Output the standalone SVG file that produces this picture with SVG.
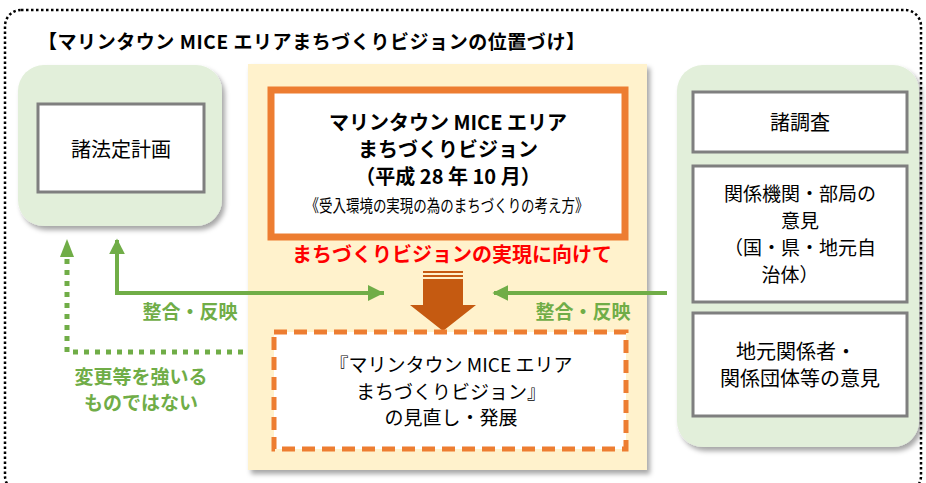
<svg xmlns="http://www.w3.org/2000/svg" width="926" height="483" viewBox="0 0 926 483">
<defs>
<filter id="sh" x="-10%" y="-10%" width="125%" height="125%">
<feDropShadow dx="3" dy="4" stdDeviation="2.5" flood-color="#000" flood-opacity="0.35"/>
</filter>
<marker id="ga" viewBox="0 0 10 10" refX="9" refY="5" markerWidth="4" markerHeight="4" orient="auto" markerUnits="strokeWidth">
<path d="M0,0 L10,5 L0,10 Z" fill="#70ad47"/>
</marker>
<style>
.t{font-family:"Noto Sans CJK JP","Noto Sans",sans-serif;fill:#000;text-anchor:middle}
.b{font-weight:bold}
.g{fill:#70ad47;font-weight:bold}
.panel{fill:#e2efda;filter:url(#sh)}
.wb{fill:#fff;stroke:#7f7f7f;stroke-width:3}
.gl{fill:none;stroke:#70ad47;stroke-width:4}
</style>
</defs>
<rect x="0" y="0" width="926" height="483" fill="#fff"/>
<rect x="5" y="10" width="916" height="482" rx="16" fill="none" stroke="#000" stroke-width="2.5" stroke-dasharray="2.5 2.5"/>
<text class="t b" x="38" y="49" font-size="19" style="text-anchor:start" textLength="547" lengthAdjust="spacing">【マリンタウン MICE エリアまちづくりビジョンの位置づけ】</text>

<g id="left-panel">
<rect class="panel" x="18" y="65" width="204" height="161" rx="26"/>
<rect class="wb" x="38" y="104" width="166" height="88"/>
<text class="t" x="121" y="157" font-size="20">諸法定計画</text>
</g>

<g id="center-panel">
<rect x="248" y="64" width="399" height="406" fill="#fff2cc" filter="url(#sh)"/>
</g>

<g id="vision">
<rect x="271" y="90" width="354" height="147" fill="#fff" stroke="#ed7d31" stroke-width="7"/>
<text class="t b" x="448" y="130" font-size="20">マリンタウン MICE エリア</text>
<text class="t b" x="448" y="157" font-size="20">まちづくりビジョン</text>
<text class="t b" x="448" y="184" font-size="20">（平成 28 年 10 月）</text>
<text class="t" x="447" y="212" font-size="17.5" textLength="283" lengthAdjust="spacingAndGlyphs">《受入環境の実現の為のまちづくりの考え方》</text>
</g>

<text class="t b" x="452" y="262" font-size="20" style="fill:#ff0000">まちづくりビジョンの実現に向けて</text>

<g id="big-arrow" fill="#c55a11">
<rect x="423" y="271" width="40" height="2"/>
<rect x="423" y="275" width="40" height="2"/>
<path d="M423,279 H463 V305 H476 L443,331 L410,305 H423 Z"/>
</g>

<g id="review">
<rect x="274" y="332" width="352" height="117" fill="#fff" stroke="#ed7d31" stroke-width="5" stroke-dasharray="13 7"/>
<text class="t" x="451" y="372" font-size="19">『マリンタウン MICE エリア</text>
<text class="t" x="451" y="399" font-size="19">まちづくりビジョン』</text>
<text class="t" x="451" y="425" font-size="19">の見直し・発展</text>
</g>

<g id="right-panel">
<rect class="panel" x="677" y="65" width="242" height="382" rx="26"/>
</g>
<g id="survey">
<rect class="wb" x="693" y="92" width="214" height="60"/>
<text class="t" x="800" y="130" font-size="20">諸調査</text>
</g>
<g id="agencies">
<rect class="wb" x="693" y="166" width="214" height="136"/>
<text class="t" x="800" y="201" font-size="19">関係機関・部局の</text>
<text class="t" x="800" y="228" font-size="19">意見</text>
<text class="t" x="800" y="255" font-size="19">（国・県・地元自</text>
<text class="t" x="790" y="282" font-size="19">治体）</text>
</g>
<g id="locals">
<rect class="wb" x="693" y="313" width="214" height="103"/>
<text class="t" x="796" y="359" font-size="20">地元関係者・</text>
<text class="t" x="800" y="386" font-size="20">関係団体等の意見</text>
</g>

<g id="connectors">
<polyline class="gl" points="384,293 117,293 117,240" marker-end="url(#ga)"/>
<path d="M368,285 L384,293 L368,301 Z" fill="#70ad47"/>
<line class="gl" x1="667" y1="293" x2="494" y2="293" marker-end="url(#ga)"/>
<polyline fill="none" stroke="#70ad47" stroke-width="5" stroke-dasharray="5 6" points="243,352 67,352 67,256"/>
<path d="M60,257 L67,239 L74,257 Z" fill="#70ad47"/>
</g>
<text class="t g" x="190" y="319" font-size="19">整合・反映</text>
<text class="t g" x="583" y="319" font-size="19">整合・反映</text>
<text class="t g" x="141" y="384" font-size="19">変更等を強いる</text>
<text class="t g" x="141" y="410" font-size="19">ものではない</text>
</svg>
